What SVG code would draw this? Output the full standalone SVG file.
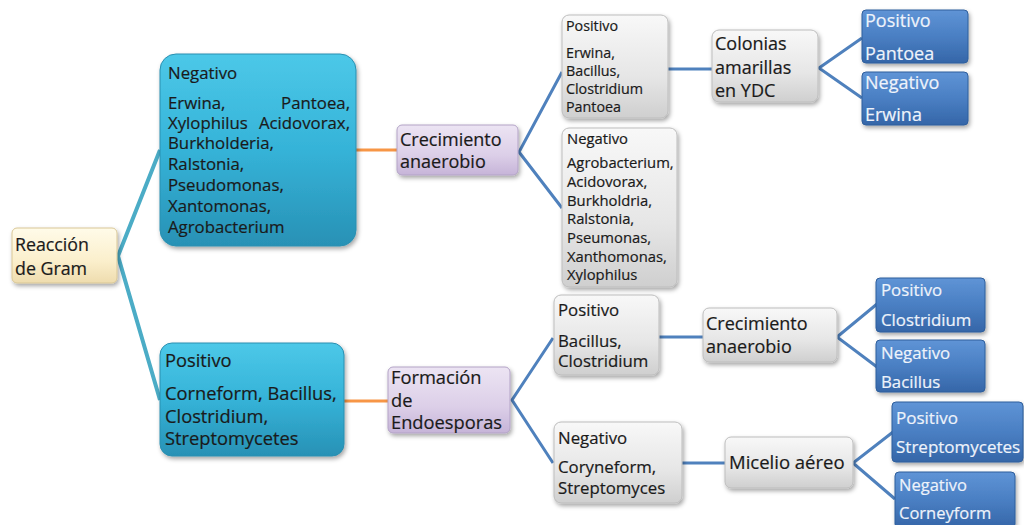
<svg xmlns="http://www.w3.org/2000/svg" width="1024" height="525" viewBox="0 0 1024 525">
<defs>
<linearGradient id="gTeal" x1="0" y1="0" x2="0" y2="1"><stop offset="0" stop-color="#4cc8e8"/><stop offset="0.5" stop-color="#35b3d8"/><stop offset="1" stop-color="#2891b5"/></linearGradient>
<linearGradient id="gGray" x1="0" y1="0" x2="0" y2="1"><stop offset="0" stop-color="#f8f8f8"/><stop offset="0.6" stop-color="#e6e6e6"/><stop offset="1" stop-color="#cfcfcf"/></linearGradient>
<linearGradient id="gPurple" x1="0" y1="0" x2="0" y2="1"><stop offset="0" stop-color="#ece4f3"/><stop offset="0.6" stop-color="#dccfe8"/><stop offset="1" stop-color="#c6b4d8"/></linearGradient>
<linearGradient id="gCream" x1="0" y1="0" x2="0" y2="1"><stop offset="0" stop-color="#fffbe9"/><stop offset="0.6" stop-color="#fbefcc"/><stop offset="1" stop-color="#eedcae"/></linearGradient>
<linearGradient id="gBlue" x1="0" y1="0" x2="0" y2="1"><stop offset="0" stop-color="#5f94d6"/><stop offset="0.5" stop-color="#4a7fc3"/><stop offset="1" stop-color="#3566a8"/></linearGradient>
<filter id="sh" x="-20%" y="-20%" width="140%" height="140%"><feDropShadow dx="1.5" dy="2.5" stdDeviation="2" flood-color="#000" flood-opacity="0.35"/></filter>
</defs>
<style>
.t{font-family:"Open Sans",Lato,"Liberation Sans",sans-serif;fill:#1a1a1a;stroke:#1a1a1a;stroke-width:0.2}
.w{font-family:"Open Sans",Lato,"Liberation Sans",sans-serif;fill:#eef3fb;stroke:#eef3fb;stroke-width:0.2}
.teal{fill:url(#gTeal);stroke:#2a8fb0;stroke-width:1;filter:url(#sh)}
.gray{fill:url(#gGray);stroke:#bdbdbd;stroke-width:1;filter:url(#sh)}
.purple{fill:url(#gPurple);stroke:#b3a3c6;stroke-width:1;filter:url(#sh)}
.cream{fill:url(#gCream);stroke:#d9c796;stroke-width:1;filter:url(#sh)}
.blue{fill:url(#gBlue);stroke:#2f5e9c;stroke-width:1;filter:url(#sh)}
.ct{fill:none;stroke:#4bacc6;stroke-width:4}
.co{fill:none;stroke:#f79646;stroke-width:3}
.cb{fill:none;stroke:#4f81bd;stroke-width:3}
</style>
<g id="connectors">
<polyline class="ct" points="160,150 118,256 160,400"/>
<line class="co" x1="356" y1="150" x2="397" y2="150"/>
<line class="co" x1="344" y1="401" x2="388" y2="401"/>
<polyline class="cb" points="562,72 519,152 562,208"/>
<line class="cb" x1="668" y1="69" x2="713" y2="69"/>
<polyline class="cb" points="862,38 819,68 862,98"/>
<polyline class="cb" points="553,338 512,400 553,463"/>
<line class="cb" x1="659" y1="337" x2="704" y2="337"/>
<line class="cb" x1="682" y1="463" x2="726" y2="463"/>
<polyline class="cb" points="877,304 837,337 877,367"/>
<polyline class="cb" points="893,432 853,463 895,499"/>
</g>
<g id="n-reaccion">
<rect class="cream" x="12" y="228" width="105" height="55" rx="5"/>
<text class="t" font-size="17.8"><tspan x="15" y="251">Reacción</tspan><tspan x="15" y="275">de Gram</tspan></text>
</g>
<g id="n-negativo">
<rect class="teal" x="160" y="54" width="196" height="192" rx="16"/>
<text class="t" font-size="16.8"><tspan x="168" y="79">Negativo</tspan><tspan x="168" y="109">Erwina,</tspan><tspan x="350" y="109" text-anchor="end">Pantoea,</tspan><tspan x="168" y="129">Xylophilus</tspan><tspan x="350" y="129" text-anchor="end">Acidovorax,</tspan><tspan x="168" y="149">Burkholderia,</tspan><tspan x="168" y="170">Ralstonia,</tspan><tspan x="168" y="191">Pseudomonas,</tspan><tspan x="168" y="212">Xantomonas,</tspan><tspan x="168" y="233">Agrobacterium</tspan></text>
</g>
<g id="n-positivo">
<rect class="teal" x="160" y="343" width="184" height="113" rx="12"/>
<text class="t" font-size="18.3"><tspan x="165" y="367">Positivo</tspan><tspan x="165" y="400">Corneform, Bacillus,</tspan><tspan x="165" y="423">Clostridium,</tspan><tspan x="165" y="445">Streptomycetes</tspan></text>
</g>
<g id="n-crec1">
<rect class="purple" x="397" y="125" width="121" height="50" rx="5"/>
<text class="t" font-size="18"><tspan x="400" y="146">Crecimiento</tspan><tspan x="400" y="168">anaerobio</tspan></text>
</g>
<g id="n-pos1">
<rect class="gray" x="562" y="15" width="106" height="103" rx="7"/>
<text class="t" font-size="14.3"><tspan x="566" y="31">Positivo</tspan><tspan x="566" y="58">Erwina,</tspan><tspan x="566" y="76">Bacillus,</tspan><tspan x="566" y="94">Clostridium</tspan><tspan x="566" y="112">Pantoea</tspan></text>
</g>
<g id="n-neg1">
<rect class="gray" x="562" y="128" width="115" height="159" rx="7"/>
<text class="t" font-size="14.8"><tspan x="567" y="144">Negativo</tspan><tspan x="567" y="168">Agrobacterium,</tspan><tspan x="567" y="187">Acidovorax,</tspan><tspan x="567" y="206">Burkholdria,</tspan><tspan x="567" y="224">Ralstonia,</tspan><tspan x="567" y="243">Pseumonas,</tspan><tspan x="567" y="262">Xanthomonas,</tspan><tspan x="567" y="280">Xylophilus</tspan></text>
</g>
<g id="n-colonias">
<rect class="gray" x="712" y="30" width="106" height="72" rx="7"/>
<text class="t" font-size="18"><tspan x="715" y="50">Colonias</tspan><tspan x="715" y="74">amarillas</tspan><tspan x="715" y="97">en YDC</tspan></text>
</g>
<g id="n-pantoea">
<rect class="blue" x="862" y="10" width="106" height="53" rx="4"/>
<text class="w" font-size="18"><tspan x="865" y="27">Positivo</tspan><tspan x="865" y="60">Pantoea</tspan></text>
</g>
<g id="n-erwina">
<rect class="blue" x="862" y="72" width="106" height="53" rx="4"/>
<text class="w" font-size="18"><tspan x="865" y="89">Negativo</tspan><tspan x="865" y="121">Erwina</tspan></text>
</g>
<g id="n-formacion">
<rect class="purple" x="388" y="367" width="122" height="66" rx="5"/>
<text class="t" font-size="18.3"><tspan x="391" y="384">Formación</tspan><tspan x="391" y="407">de</tspan><tspan x="391" y="429">Endoesporas</tspan></text>
</g>
<g id="n-pos2">
<rect class="gray" x="554" y="295" width="105" height="80" rx="7"/>
<text class="t" font-size="16.8"><tspan x="558" y="316">Positivo</tspan><tspan x="558" y="347">Bacillus,</tspan><tspan x="558" y="367">Clostridium</tspan></text>
</g>
<g id="n-neg2">
<rect class="gray" x="554" y="422" width="128" height="81" rx="7"/>
<text class="t" font-size="16.8"><tspan x="558" y="444">Negativo</tspan><tspan x="558" y="473">Coryneform,</tspan><tspan x="558" y="494">Streptomyces</tspan></text>
</g>
<g id="n-crec2">
<rect class="gray" x="703" y="308" width="134" height="54" rx="6"/>
<text class="t" font-size="18"><tspan x="706" y="330">Crecimiento</tspan><tspan x="706" y="353">anaerobio</tspan></text>
</g>
<g id="n-micelio">
<rect class="gray" x="725" y="437" width="128" height="51" rx="6"/>
<text class="t" font-size="18.5"><tspan x="729" y="469">Micelio aéreo</tspan></text>
</g>
<g id="n-clostridium">
<rect class="blue" x="876" y="278" width="109" height="54" rx="4"/>
<text class="w" font-size="16.8"><tspan x="881" y="296">Positivo</tspan><tspan x="881" y="326">Clostridium</tspan></text>
</g>
<g id="n-bacillus">
<rect class="blue" x="876" y="340" width="109" height="52" rx="4"/>
<text class="w" font-size="16.8"><tspan x="881" y="359">Negativo</tspan><tspan x="881" y="388">Bacillus</tspan></text>
</g>
<g id="n-strepto">
<rect class="blue" x="892" y="402" width="131" height="60" rx="4"/>
<text class="w" font-size="17"><tspan x="896" y="424">Positivo</tspan><tspan x="896" y="453">Streptomycetes</tspan></text>
</g>
<g id="n-corneyform">
<rect class="blue" x="895" y="472" width="120" height="56" rx="4"/>
<text class="w" font-size="16.5"><tspan x="899" y="491">Negativo</tspan><tspan x="899" y="519">Corneyform</tspan></text>
</g>
</svg>
